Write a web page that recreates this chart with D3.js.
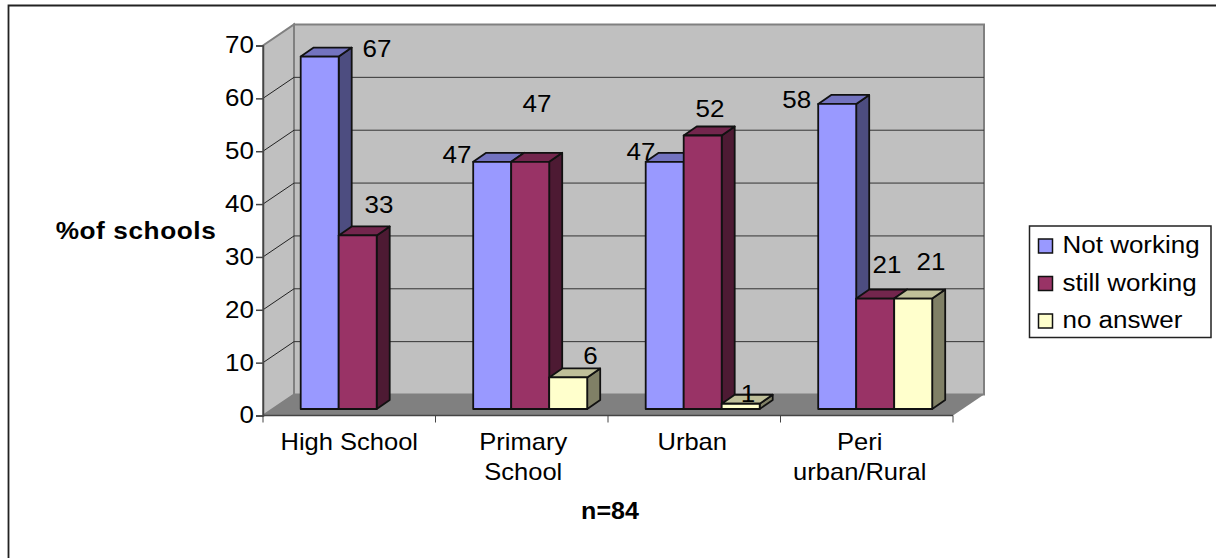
<!DOCTYPE html>
<html>
<head>
<meta charset="utf-8">
<script src="https://cdn.jsdelivr.net/npm/d3@7"></script>
<style>
  html, body { margin: 0; padding: 0; background: #fff; overflow: hidden; }
  svg { display: block; }
  text { font-family: "Liberation Sans", Arial, sans-serif; fill: #000; }
</style>
</head>
<body>
<div id="chart"></div>
<script>
var categories = ["High School", "Primary School", "Urban", "Peri urban/Rural"];
var seriesNames = ["Not working", "still working", "no answer"];
var notWorking = [67, 47, 47, 58];
var stillWorking = [33, 47, 52, 21];
var noAnswer = [null, 6, 1, 21];
var yTicks = [0, 10, 20, 30, 40, 50, 60, 70];

var colors = ["#9999ff", "#993366", "#ffffcc"];
var topColors = ["#7373bf", "#73264d", "#bfbf99"];
var sideColors = ["#4d4d80", "#4d1a33", "#808066"];

// hand-placed data labels, offset from the top centre of each bar [series][category]
var labelShift = [
  [[57.3, 0.4], [-35.2, 1.2], [-23.7, -1.8], [-40.5, 3.8]],
  [[21.3, -22.4], [6.8, -49.8], [7.3, -18.5], [11.8, -25.5]],
  [[0, 0], [22.3, -13.4], [7.3, -2], [17.8, -28.5]]
];
var catLines = [["High School"], ["Primary", "School"], ["Urban"], ["Peri", "urban/Rural"]];
var catShift = [0, 1.5, -2, -7];

var width = 1216, height = 558;
var fontSize = 23;
var svg = d3.select("#chart").append("svg")
  .attr("width", width)
  .attr("height", height);

// the text runs wide, so squeeze it out sideways around its own anchor
function widen(sel, k) {
  sel.each(function() {
    var t = d3.select(this);
    var ax = t.attr("x");
    if (ax === null) ax = t.select("tspan").attr("x");
    ax = +ax || 0;
    t.attr("transform", "translate(" + ax * (1 - k) + ",0) scale(" + k + ",1)");
  });
}

// outer frame only shows on the top and left
svg.append("path")
  .attr("d", "M8.5," + height + "V5.5H" + width)
  .attr("fill", "none")
  .attr("stroke", "#222")
  .attr("stroke-width", 1.8);

// y is for the front edge of the floor, barY for the bars standing further back
var y = d3.scaleLinear().domain([0, 70]).range([415.5, 45.5]);
var barY = d3.scaleLinear().domain([0, 70]).range([409, 40.8]);
var x = d3.scaleBand().domain(categories).range([263, 953]);
var xs = d3.scaleBand().domain(seriesNames)
  .range([29, x.bandwidth() - 29.5]);

// depth of the box and of the bars
var wallDx = 31, wallDy = -21;
var barDx = 13, barDy = -9;
var shiftX = 8.7;

var plotRight = x.range()[1];

// back wall, side wall and floor
svg.append("polygon")
  .attr("points", [[263 + wallDx, y(70) + wallDy], [plotRight + wallDx, y(70) + wallDy],
    [plotRight + wallDx, y(0) + wallDy], [263 + wallDx, y(0) + wallDy]].join(" "))
  .attr("fill", "#c0c0c0")
  .attr("stroke", "#808080")
  .attr("stroke-width", 2);

svg.append("polygon")
  .attr("points", [[263, y(70)], [263 + wallDx, y(70) + wallDy],
    [263 + wallDx, y(0) + wallDy], [263, y(0)]].join(" "))
  .attr("fill", "#c0c0c0")
  .attr("stroke", "#808080")
  .attr("stroke-width", 2);

svg.append("polygon")
  .attr("points", [[263, y(0)], [plotRight, y(0)],
    [plotRight + wallDx, y(0) + wallDy], [263 + wallDx, y(0) + wallDy]].join(" "))
  .attr("fill", "#808080");

// gridlines on the two walls
var gridTicks = yTicks.filter(function(d) { return d > 0 && d < 70; });
svg.selectAll("line.wall")
  .data(gridTicks)
  .enter().append("line")
  .attr("class", "wall")
  .attr("x1", 263).attr("y1", d => y(d))
  .attr("x2", 263 + wallDx).attr("y2", d => y(d) + wallDy)
  .attr("stroke", "#222");
svg.selectAll("line.back")
  .data(gridTicks)
  .enter().append("line")
  .attr("class", "back")
  .attr("x1", 263 + wallDx).attr("y1", d => y(d) + wallDy)
  .attr("x2", plotRight + wallDx).attr("y2", d => y(d) + wallDy)
  .attr("stroke", "#333");

// Y axis
svg.append("g")
  .attr("transform", "translate(263,0)")
  .call(d3.axisLeft(y).tickValues(yTicks).tickSize(7).tickPadding(2))
  .call(g => g.selectAll("path,line").attr("stroke", "#444").attr("stroke-width", 1.5))
  .call(g => g.selectAll("text").attr("font-size", fontSize).attr("fill", "#000")
    .style("font-family", '"Liberation Sans", Arial, sans-serif'))
  .call(g => widen(g.selectAll("text"), 1.13));

// X axis, ticks sit on the band edges
svg.append("line")
  .attr("x1", 263).attr("x2", plotRight)
  .attr("y1", y(0)).attr("y2", y(0))
  .attr("stroke", "#444").attr("stroke-width", 1.5);
svg.selectAll("line.xtick")
  .data(categories.concat([null]))
  .enter().append("line")
  .attr("class", "xtick")
  .attr("x1", (d, i) => 263 + i * x.bandwidth())
  .attr("x2", (d, i) => 263 + i * x.bandwidth())
  .attr("y1", y(0)).attr("y2", y(0) + 7)
  .attr("stroke", "#444");

svg.selectAll("text.cat")
  .data(categories)
  .enter().append("text")
  .attr("class", "cat")
  .attr("text-anchor", "middle")
  .attr("font-size", fontSize)
  .attr("y", 450)
  .each(function(d, i) {
    d3.select(this).selectAll("tspan")
      .data(catLines[i])
      .enter().append("tspan")
      .attr("x", x(d) + x.bandwidth() / 2 + catShift[i])
      .attr("dy", (t, j) => j ? 30 : 0)
      .text(t => t);
  })
  .call(widen, 1.11);

// bars, drawn left to right so neighbours overlap properly
var series = [notWorking, stillWorking, noAnswer];
var bars = [];
categories.forEach(function(c, ci) {
  seriesNames.forEach(function(s, si) {
    if (series[si][ci] !== null) bars.push({cat: c, name: s, si: si, ci: ci, value: series[si][ci]});
  });
});

var barG = svg.selectAll("g.bar")
  .data(bars)
  .enter().append("g")
  .attr("class", "bar")
  .attr("stroke", "#111")
  .attr("stroke-width", 1.8)
  .attr("stroke-linejoin", "round");

function left(d) { return x(d.cat) + xs(d.name) + shiftX; }
function right(d) { return left(d) + xs.bandwidth(); }
function top_(d) { return barY(d.value); }
function bottom(d) { return barY(0); }

barG.append("polygon")
  .attr("points", d => [[right(d), top_(d)], [right(d) + barDx, top_(d) + barDy],
    [right(d) + barDx, bottom(d) + barDy], [right(d), bottom(d)]].join(" "))
  .attr("fill", d => sideColors[d.si]);
barG.append("polygon")
  .attr("points", d => [[left(d), top_(d)], [left(d) + barDx, top_(d) + barDy],
    [right(d) + barDx, top_(d) + barDy], [right(d), top_(d)]].join(" "))
  .attr("fill", d => topColors[d.si]);
barG.append("rect")
  .attr("x", left)
  .attr("y", top_)
  .attr("width", xs.bandwidth())
  .attr("height", d => bottom(d) - top_(d))
  .attr("fill", d => colors[d.si]);

// value labels
svg.selectAll("text.val")
  .data(bars)
  .enter().append("text")
  .attr("class", "val")
  .attr("text-anchor", "middle")
  .attr("font-size", fontSize)
  .attr("x", d => (left(d) + right(d)) / 2 + labelShift[d.si][d.ci][0])
  .attr("y", d => top_(d) + labelShift[d.si][d.ci][1])
  .text(d => d.value)
  .call(widen, 1.13);

// axis titles
svg.append("text")
  .attr("x", 136).attr("y", 239)
  .attr("text-anchor", "middle")
  .attr("font-size", fontSize).attr("font-weight", "bold")
  .attr("letter-spacing", 0.5)
  .text("%of schools")
  .call(widen, 1.14);
svg.append("text")
  .attr("x", 610).attr("y", 519)
  .attr("text-anchor", "middle")
  .attr("font-size", fontSize).attr("font-weight", "bold")
  .text("n=84")
  .call(widen, 1.09);

// legend
var legend = svg.append("g").attr("transform", "translate(1029.5,226)");
legend.append("rect")
  .attr("width", 181.5).attr("height", 111.5)
  .attr("fill", "#fff").attr("stroke", "#222").attr("stroke-width", 1.5);
var rows = legend.selectAll("g.row")
  .data(seriesNames)
  .enter().append("g")
  .attr("class", "row")
  .attr("transform", (d, i) => "translate(0," + (20 + i * 37.5) + ")");
rows.append("rect")
  .attr("x", 9).attr("y", -7)
  .attr("width", 14).attr("height", 14)
  .attr("fill", (d, i) => colors[i])
  .attr("stroke", "#111").attr("stroke-width", 1.5);
rows.append("text")
  .attr("x", 33).attr("y", 7)
  .attr("font-size", fontSize)
  .text(d => d)
  .call(widen, 1.13);
</script>
</body>
</html>
